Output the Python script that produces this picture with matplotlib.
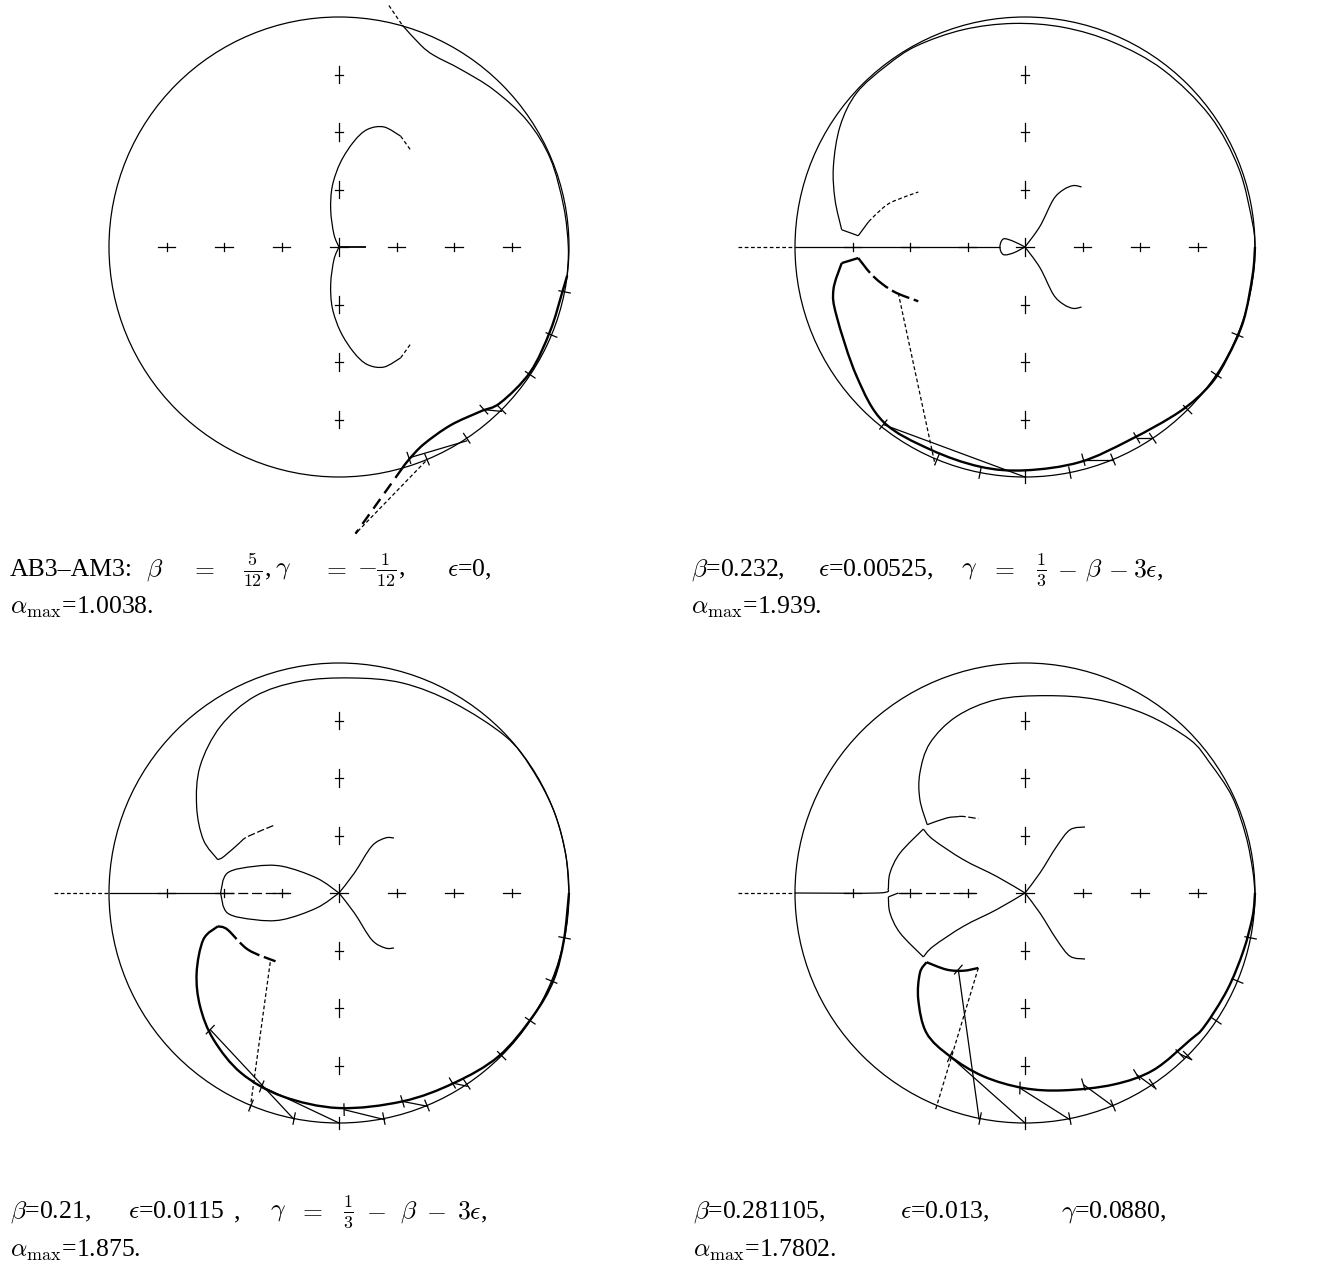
import numpy as np
import matplotlib
matplotlib.use("Agg")
import matplotlib.pyplot as plt
from matplotlib.patches import Circle, PathPatch
from matplotlib.path import Path

plt.rcParams["font.family"] = ["Liberation Serif", "DejaVu Serif"]
plt.rcParams["mathtext.fontset"] = "cm"

W, H = 1336, 1270
R = 230.0   # pixels per unit (circle radius)
LIM = 1.3

# panel centres in pixels (x, y from top)
centres = [(339, 247), (1025, 247), (339, 893), (1025, 893)]

# cross ticks on the axes
tick_pos = [-0.75, -0.5, -0.25, 0.25, 0.5, 0.75]

# ---------------- panel 1 : AB3-AM3 ----------------
p1_c_upper = [(0, 0), (-0.022, 0.055), (-0.036, 0.16), (-0.029, 0.265), (0.007, 0.369),
              (0.065, 0.459), (0.123, 0.511), (0.195, 0.522), (0.268, 0.482)]
p1_c_tip = [(0.268, 0.482), (0.311, 0.422)]
p1_axis_seg = [(0, 0), (0.116, 0)]
p1_outer = [(0.275, 0.965), (0.355, 0.878), (0.413, 0.833), (0.528, 0.773), (0.673, 0.683),
            (0.818, 0.549), (0.919, 0.384), (0.977, 0.175), (0.997, 0.0), (0.992, -0.124)]
p1_outer_thick = [(0.992, -0.124), (0.970, -0.199), (0.919, -0.363), (0.832, -0.543),
                  (0.702, -0.677), (0.615, -0.715), (0.485, -0.775), (0.369, -0.857),
                  (0.304, -0.924), (0.275, -0.962)]
p1_top_dash = [(0.217, 1.05), (0.275, 0.965)]
p1_bot_dash_thick = [(0.275, -0.962), (0.072, -1.246)]
p1_bot_dash_thin = [(0.376, -0.932), (0.072, -1.246)]
p1_connectors = [[(0.304, -0.917), (0.558, -0.842)], [(0.630, -0.707), (0.709, -0.715)]]
p1_circle_ticks = [-11.25, -22.5, -33.75, -45.0, -56.25, -67.5]

# ---------------- panel 2 ----------------
p2_axis_dash = [(-1.246, 0), (-1.0, 0)]
p2_axis_solid = [(-1.0, 0), (-0.109, 0)]
p2_loop = [(0, 0), (-0.051, 0.025), (-0.094, 0.035), (-0.109, 0.0), (-0.094, -0.033),
           (-0.051, -0.026), (0, 0)]
p2_s_upper = [(0, 0), (0.065, 0.090), (0.123, 0.206), (0.167, 0.249), (0.210, 0.267),
              (0.246, 0.261)]
p2_corner_upper = [(-0.725, 0.049), (-0.797, 0.075)]
p2_upper_outer = [(-0.797, 0.075), (-0.826, 0.206), (-0.833, 0.351),
                  (-0.804, 0.525), (-0.732, 0.670), (-0.600, 0.790), (-0.470, 0.875),
                  (-0.268, 0.945), (-0.051, 0.972), (0.167, 0.955), (0.384, 0.890),
                  (0.601, 0.770), (0.804, 0.570), (0.930, 0.340), (0.990, 0.100), (1.0, 0.0)]
p2_upper_branch = [(-0.725, 0.049), (-0.680, 0.110)]
p2_upper_branch_dash = [(-0.680, 0.110), (-0.620, 0.168), (-0.572, 0.199), (-0.464, 0.239)]
p2_lower_outer = [(1.0, 0.0), (0.990, -0.120), (0.950, -0.320), (0.880, -0.480), (0.804, -0.600),
                  (0.674, -0.715), (0.457, -0.838), (0.239, -0.935), (0.0, -0.971),
                  (-0.196, -0.955), (-0.413, -0.880), (-0.616, -0.760), (-0.732, -0.562),
                  (-0.819, -0.301), (-0.833, -0.186), (-0.797, -0.070)]
p2_corner_lower = [(-0.797, -0.070), (-0.725, -0.048)]
p2_lower_branch = [(-0.725, -0.048), (-0.659, -0.128), (-0.572, -0.193), (-0.464, -0.236)]
p2_dashed_line = [(-0.551, -0.200), (-0.391, -0.946)]
p2_connectors = [[(-0.616, -0.772), (0.0, -1.0)], [(0.254, -0.925), (0.384, -0.925)],
                 [(0.486, -0.830), (0.558, -0.830)]]
p2_circle_ticks = [-22.5, -33.75, -45.0, -56.25, -67.5, -78.75, -90.0, -101.25, -112.5]

# ---------------- panel 3 ----------------
p3_axis_dash = [(-1.239, 0), (-1.0, 0)]
p3_axis_solid = [(-1.0, 0), (-0.5, 0)]
p3_axis_dashdot = [(-0.5, 0), (-0.216, 0)]
p3_lens_upper = [(0, 0), (-0.097, 0.065), (-0.246, 0.116), (-0.366, 0.116), (-0.485, 0.087),
                 (-0.515, 0.0)]
p3_s_upper = [(0, 0), (0.067, 0.087), (0.142, 0.203), (0.201, 0.239), (0.239, 0.239)]
p3_upper_outer = [(-0.527, 0.145), (-0.590, 0.232), (-0.619, 0.377), (-0.604, 0.551),
                  (-0.515, 0.725), (-0.366, 0.855), (-0.172, 0.920), (0.052, 0.935),
                  (0.276, 0.913), (0.500, 0.826), (0.724, 0.681), (0.835, 0.545),
                  (0.933, 0.360), (0.985, 0.170), (1.0, 0.0)]
p3_upper_branch = [(-0.527, 0.145), (-0.500, 0.159), (-0.430, 0.220)]
p3_upper_branch_dash = [(-0.430, 0.220), (-0.396, 0.246), (-0.276, 0.297)]
p3_lower_outer = [(1.0, 0.0), (0.978, -0.203), (0.933, -0.377), (0.843, -0.536), (0.694, -0.710),
                  (0.500, -0.826), (0.276, -0.906), (0.0, -0.935), (-0.246, -0.884),
                  (-0.425, -0.783), (-0.545, -0.638), (-0.604, -0.493), (-0.619, -0.348),
                  (-0.590, -0.203), (-0.527, -0.145)]
p3_lower_branch = [(-0.527, -0.145), (-0.485, -0.159), (-0.396, -0.246), (-0.276, -0.297)]
p3_dashed_line = [(-0.299, -0.301), (-0.388, -0.949)]
p3_connectors = [[(-0.560, -0.594), (-0.194, -0.986)], [(-0.336, -0.841), (0.0, -1.0)],
                 [(0.022, -0.942), (0.201, -0.986)], [(0.276, -0.906), (0.388, -0.928)],
                 [(0.493, -0.826), (0.560, -0.841)]]
p3_circle_ticks = [-11.25, -22.5, -33.75, -45.0, -56.25, -67.5, -78.75, -90.0, -101.25, -112.5]

# ---------------- panel 4 ----------------
p4_axis_dash = [(-1.246, 0), (-1.0, 0)]
p4_axis_solid = [(-1.0, 0), (-0.638, 0), (-0.594, 0.017)]
p4_axis_step = [(-0.594, -0.017), (-0.551, 0)]
p4_axis_dashdot = [(-0.551, 0), (-0.217, 0)]
p4_mid_upper_a = [(-0.594, 0.017), (-0.587, 0.087), (-0.543, 0.174), (-0.442, 0.278)]
p4_mid_upper_b = [(-0.442, 0.278), (-0.399, 0.232), (-0.268, 0.145), (-0.123, 0.072), (0, 0)]
p4_s_upper = [(0, 0), (0.065, 0.087), (0.138, 0.203), (0.196, 0.275), (0.261, 0.287)]
p4_upper_outer = [(-0.425, 0.297), (-0.457, 0.406), (-0.457, 0.522), (-0.413, 0.652),
                  (-0.297, 0.768), (-0.123, 0.841), (0.094, 0.858), (0.312, 0.841),
                  (0.529, 0.775), (0.717, 0.667), (0.804, 0.565), (0.900, 0.420),
                  (0.960, 0.250), (0.990, 0.100), (1.0, 0.0)]
p4_upper_branch = [(-0.425, 0.297), (-0.341, 0.326), (-0.290, 0.332)]
p4_upper_branch_dash = [(-0.290, 0.332), (-0.268, 0.333), (-0.203, 0.323)]
p4_lower_outer = [(1.0, 0.0), (0.990, -0.100), (0.950, -0.250), (0.880, -0.420), (0.780, -0.580),
                  (0.717, -0.640), (0.558, -0.770), (0.384, -0.833), (0.167, -0.858),
                  (-0.007, -0.848), (-0.181, -0.797), (-0.326, -0.710), (-0.428, -0.609),
                  (-0.464, -0.464), (-0.457, -0.348), (-0.428, -0.301)]
p4_lower_branch = [(-0.428, -0.301), (-0.341, -0.333), (-0.268, -0.338), (-0.203, -0.326)]
p4_dashed_line = [(-0.203, -0.326), (-0.391, -0.949)]
p4_connectors = [[(-0.290, -0.333), (-0.199, -0.986)], [(-0.326, -0.710), (0.0, -1.0)],
                 [(-0.022, -0.848), (0.196, -0.986)], [(0.254, -0.833), (0.384, -0.928)],
                 [(0.486, -0.790), (0.565, -0.848)], [(0.674, -0.700), (0.725, -0.725)]]
p4_circle_ticks = [-11.25, -22.5, -33.75, -45.0, -56.25, -67.5, -78.75, -90.0, -101.25]

# captions: (x pixel, text) pieces per line
cap1_l1 = [(10, "AB3\u2013AM3:"), (146, r"$\beta$"), (190, r"$=$"), (243, r"$\frac{5}{12}$,"),
           (275, r"$\gamma$"), (322, r"$=$"), (357, r"$-\frac{1}{12}$,"), (447, r"$\epsilon$=0,")]
cap1_l2 = [(10, r"$\alpha_{\rm max}$=1.0038.")]
cap2_l1 = [(691, r"$\beta$=0.232,"), (818, r"$\epsilon$=0.00525,"), (961, r"$\gamma$"),
           (990, r"$=$"), (1036, r"$\frac{1}{3}$"), (1057, r"$-$"), (1085, r"$\beta$"),
           (1108, r"$-$"), (1133, r"$3\epsilon$,")]
cap2_l2 = [(691, r"$\alpha_{\rm max}$=1.939.")]
cap3_l1 = [(10, r"$\beta$=0.21,"), (128, r"$\epsilon$=0.0115"), (234, ","), (270, r"$\gamma$"),
           (298, r"$=$"), (343, r"$\frac{1}{3}$"), (366, r"$-$"), (400, r"$\beta$"),
           (426, r"$-$"), (457, r"$3\epsilon$,")]
cap3_l2 = [(10, r"$\alpha_{\rm max}$=1.875.")]
cap4_l1 = [(693, r"$\beta$=0.281105,"), (900, r"$\epsilon$=0.013,"), (1061, r"$\gamma$=0.0880,")]
cap4_l2 = [(693, r"$\alpha_{\rm max}$=1.7802.")]
caption_rows = [(570, cap1_l1), (607, cap1_l2), (570, cap2_l1), (607, cap2_l2),
                (1212, cap3_l1), (1250, cap3_l2), (1212, cap4_l1), (1250, cap4_l2)]

THIN = 0.9
THICK = 1.7
DASH = (0, (3, 2))


def smooth_path(pts):
    # cubic Bezier path through the read points (Catmull-Rom tangents)
    p = np.asarray(pts, dtype=float)
    verts = [p[0]]
    codes = [Path.MOVETO]
    n = len(p)
    for i in range(n - 1):
        p0 = p[max(i - 1, 0)]
        p1, p2 = p[i], p[i + 1]
        p3 = p[min(i + 2, n - 1)]
        verts += [p1 + (p2 - p0) / 6.0, p2 - (p3 - p1) / 6.0, p2]
        codes += [Path.CURVE4] * 3
    return Path(verts, codes)


def line(ax, pts, lw=THIN, ls="-", mirror=False):
    sets = [pts]
    if mirror:
        sets.append([(x, -y) for x, y in pts])
    for s in sets:
        if len(s) > 2:
            ax.add_patch(PathPatch(smooth_path(s), fill=False, ec="k", lw=lw, ls=ls,
                                   capstyle="butt", clip_on=False))
        else:
            xs, ys = zip(*s)
            ax.plot(xs, ys, color="k", lw=lw, ls=ls, solid_capstyle="butt", clip_on=False)


def base(ax):
    ax.add_patch(Circle((0, 0), 1.0, fill=False, ec="k", lw=THIN))
    for t in tick_pos:
        ax.plot([t - 0.037, t + 0.037], [0, 0], color="k", lw=THIN)
        ax.plot([t, t], [-0.018, 0.018], color="k", lw=THIN)
        ax.plot([-0.018, 0.018], [t, t], color="k", lw=THIN)
        ax.plot([0, 0], [t - 0.037, t + 0.037], color="k", lw=THIN)
    ax.plot([-0.037, 0.037], [0, 0], color="k", lw=THIN)
    ax.plot([0, 0], [-0.037, 0.037], color="k", lw=THIN)


def circle_ticks(ax, angles):
    for a in angles:
        c, s = np.cos(np.radians(a)), np.sin(np.radians(a))
        ax.plot([0.975 * c, 1.025 * c], [0.975 * s, 1.025 * s], color="k", lw=THIN)


def connectors(ax, segs):
    for seg in segs:
        line(ax, seg)
        (x0, y0) = seg[0]
        r = np.hypot(x0, y0)
        ax.plot([x0 * (1 - 0.025 / r), x0 * (1 + 0.025 / r)],
                [y0 * (1 - 0.025 / r), y0 * (1 + 0.025 / r)], color="k", lw=THIN)


fig = plt.figure(figsize=(W / 100, H / 100), dpi=100)
axes = []
for cx, cy in centres:
    ax = fig.add_axes([(cx - LIM * R) / W, (H - cy - LIM * R) / H, 2 * LIM * R / W, 2 * LIM * R / H])
    ax.set_xlim(-LIM, LIM)
    ax.set_ylim(-LIM, LIM)
    ax.axis("off")
    base(ax)
    axes.append(ax)

# panel 1
ax = axes[0]
line(ax, p1_c_upper, mirror=True)
line(ax, p1_c_tip, ls=DASH, mirror=True)
line(ax, p1_axis_seg, lw=1.3)
line(ax, p1_outer)
line(ax, p1_outer_thick, lw=THICK)
line(ax, p1_top_dash, ls=DASH)
line(ax, p1_bot_dash_thick, lw=THICK, ls=(0, (5, 3)))
line(ax, p1_bot_dash_thin, ls=DASH)
connectors(ax, p1_connectors)
circle_ticks(ax, p1_circle_ticks)

# panel 2
ax = axes[1]
line(ax, p2_axis_dash, ls=DASH)
line(ax, p2_axis_solid)
line(ax, p2_loop)
line(ax, p2_s_upper, mirror=True)
line(ax, p2_corner_upper)
line(ax, p2_upper_outer)
line(ax, p2_upper_branch)
line(ax, p2_upper_branch_dash, ls=DASH)
line(ax, p2_lower_outer, lw=THICK)
line(ax, p2_corner_lower, lw=THICK)
line(ax, p2_lower_branch, lw=THICK, ls=(0, (8, 2)))
line(ax, p2_dashed_line, ls=DASH)
connectors(ax, p2_connectors)
circle_ticks(ax, p2_circle_ticks)

# panel 3
ax = axes[2]
line(ax, p3_axis_dash, ls=DASH)
line(ax, p3_axis_solid)
line(ax, p3_axis_dashdot, ls=(0, (8, 3)))
line(ax, p3_lens_upper, mirror=True)
line(ax, p3_s_upper, mirror=True)
line(ax, p3_upper_outer)
line(ax, p3_upper_branch)
line(ax, p3_upper_branch_dash, ls=(0, (6, 2)))
line(ax, p3_lower_outer, lw=THICK)
line(ax, p3_lower_branch, lw=THICK, ls=(0, (10, 2)))
line(ax, p3_dashed_line, ls=DASH)
connectors(ax, p3_connectors)
circle_ticks(ax, p3_circle_ticks)

# panel 4
ax = axes[3]
line(ax, p4_axis_dash, ls=DASH)
line(ax, p4_axis_solid)
line(ax, p4_axis_step)
line(ax, p4_axis_dashdot, ls=(0, (8, 3)))
line(ax, p4_mid_upper_a, mirror=True)
line(ax, p4_mid_upper_b, mirror=True)
line(ax, p4_s_upper, mirror=True)
line(ax, p4_upper_outer)
line(ax, p4_upper_branch)
line(ax, p4_upper_branch_dash, ls=(0, (6, 2)))
line(ax, p4_lower_outer, lw=THICK)
line(ax, p4_lower_branch, lw=THICK)
line(ax, p4_dashed_line, ls=DASH)
connectors(ax, p4_connectors)
circle_ticks(ax, p4_circle_ticks)

for y, pieces in caption_rows:
    for x, s in pieces:
        fig.text(x / W, 1 - y / H, s, fontsize=18.5, ha="left", va="center")

fig.savefig("out.png", dpi=100)
